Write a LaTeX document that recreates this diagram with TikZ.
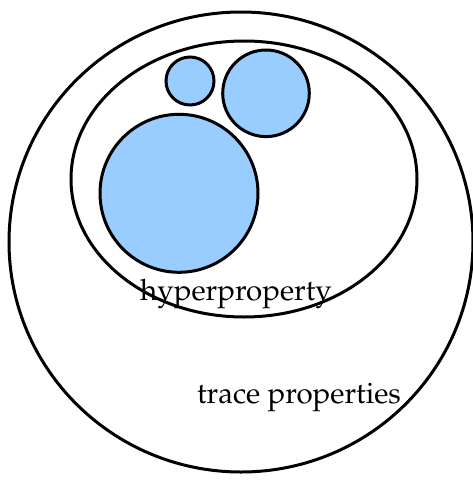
\documentclass[tikz,border=0pt]{standalone}
\usepackage[T1]{fontenc}
\usepackage{mathpazo}
\definecolor{setblue}{RGB}{153,204,255}
\tikzset{
  setline/.style={draw=black, line width=1.2pt},
  subset/.style={setline, fill=setblue},
  lbl/.style={anchor=base, inner sep=0pt, font=\fontsize{11.8}{14}\selectfont}
}
\begin{document}
\begin{tikzpicture}[x=0.4pt, y=-0.4pt]
\useasboundingbox (0,0) rectangle (473,480);
\draw[setline] (241,242) ellipse [x radius=232, y radius=230];
\draw[setline] (244,179) ellipse [x radius=173, y radius=138];
\draw[subset] (190,81) circle [radius=24];
\draw[subset] (266,93.3) circle [radius=43.3];
\draw[subset] (179,193.3) circle [radius=79];
\node[lbl] (hyp) at (236,300) {hyperproperty};
\node[lbl] (tr) at (299,403) {trace properties};
\end{tikzpicture}
\end{document}
